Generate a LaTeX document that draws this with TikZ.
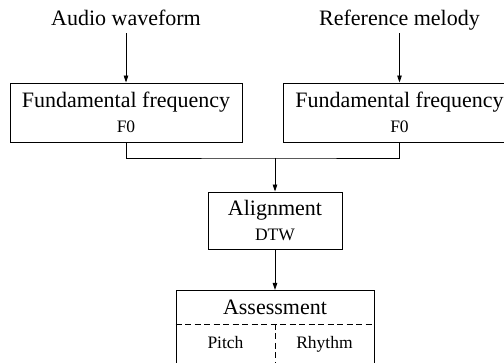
\documentclass[tikz,border=0pt]{standalone}
\usepackage{fontspec}
\setmainfont{Liberation Serif}
\usepackage{tikz}
\usetikzlibrary{positioning, arrows.meta, calc}

\begin{document}
\begin{tikzpicture}[
        x=1pt, y=1pt,
        line width=0.9pt,
        % Style for the input labels on top
        inlabel/.style={
            font=\fontsize{22}{25}\selectfont,
            text height=15pt,
            text depth=0pt,
            inner sep=7pt
        },
        % Style for the processing boxes
        stagebox/.style={
            draw,
            rectangle,
            align=center,
            inner sep=0pt,
            minimum height=59pt,
            font=\fontsize{22}{25}\selectfont
        },
        % Style for the small second line
        subtext/.style={
            font=\fontsize{17.5}{25}\selectfont
        },
        % Style for the arrows
        flow/.style={
            -{Triangle[length=7pt, width=4.5pt]}
        },
        % Style for the dashed split lines
        splitline/.style={
            dash pattern=on 6pt off 3.5pt
        }
    ]
    \path[use as bounding box, clip] (0,0) rectangle (504,363);

    % ==========================================
    % INPUTS
    % ==========================================
    \node[inlabel, anchor=base] (audio) at (126, 337) {Audio waveform};
    \node[inlabel, anchor=base] (refmel) at (399.5, 337) {Reference melody};

    % F0 boxes
    \node[stagebox, minimum width=232pt] (f0audio) at (126, 250.5)
        {Fundamental frequency\\{\fontsize{17.5}{25}\selectfont F0}};
    \node[stagebox, minimum width=232pt] (f0ref) at (399.5, 250.5)
        {Fundamental frequency\\{\fontsize{17.5}{25}\selectfont F0}};

    \draw[flow] (audio) -- (f0audio);
    \draw[flow] (refmel) -- (f0ref);

    % ==========================================
    % ALIGNMENT
    % ==========================================
    \coordinate (join) at (275, 205);
    \node[stagebox, minimum width=134pt, minimum height=57pt] (align) at (275, 142.5)
        {Alignment\\{\fontsize{17.5}{25}\selectfont DTW}};

    \draw (f0audio.south) |- (join) -| (f0ref.south);
    \draw[flow] (join) -- (align);

    % ==========================================
    % ASSESSMENT
    % ==========================================
    \node[draw, rectangle, inner sep=0pt, minimum width=198pt, minimum height=78pt,
          anchor=north] (assess) at (275, 73) {};
    \draw[flow] (align) -- (assess);

    \node[inlabel, anchor=base] (asstitle) at (275, 48) {Assessment};
    \coordinate (split) at (275, 39);
    \draw[splitline] (assess.west |- split) -- (assess.east |- split);
    \draw[splitline] (split) -- (assess.south);

    \node[subtext, anchor=base] (pitch) at (225.5, 14) {Pitch};
    \node[subtext, anchor=base] (rhythm) at (324.5, 14) {Rhythm};
\end{tikzpicture}
\end{document}
